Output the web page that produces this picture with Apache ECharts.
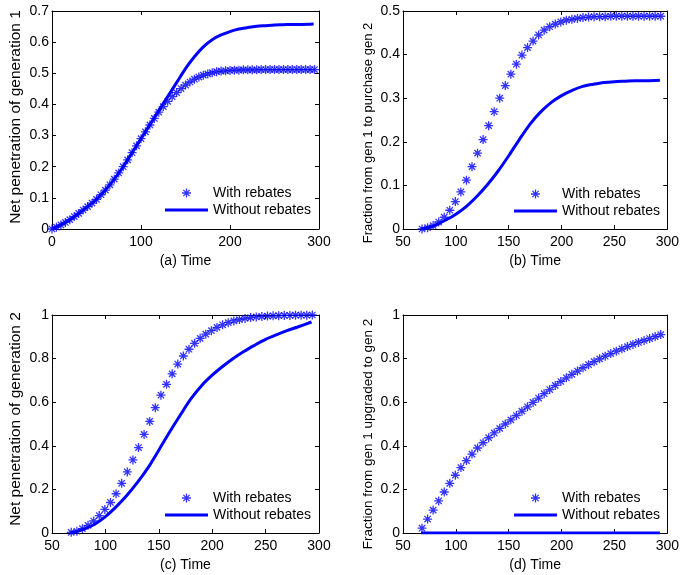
<!DOCTYPE html>
<html>
<head>
<meta charset="utf-8">
<script src="https://cdn.jsdelivr.net/npm/echarts@6/dist/echarts.min.js"></script>
<style>
  html, body { margin: 0; padding: 0; background: #fff; }
  #chart { width: 682px; height: 575px; }
</style>
</head>
<body>
<div id="chart"></div>
<script>
// time samples of the star markers
var timeA = [0, 5, 10, 15, 20, 25, 30, 35, 40, 45, 50, 55, 60, 65, 70, 75, 80, 85, 90, 95,
  100, 105, 110, 115, 120, 125, 130, 135, 140, 145, 150, 155, 160, 165, 170, 175, 180, 185, 190, 195,
  200, 205, 210, 215, 220, 225, 230, 235, 240, 245, 250, 255, 260, 265, 270, 275, 280, 285, 290, 295];
var timeBCD = [68, 73.25, 78.5, 83.75, 89, 94.25, 99.5, 104.75, 110, 115.25, 120.5, 125.75, 131, 136.25,
  141.5, 146.75, 152, 157.25, 162.5, 167.75, 173, 178.25, 183.5, 188.75, 194, 199.25, 204.5, 209.75,
  215, 220.25, 225.5, 230.75, 236, 241.25, 246.5, 251.75, 257, 262.25, 267.5, 272.75, 278, 283.25,
  288.5, 293.75];

// time samples of the solid curves
var lineTimeA = [0, 10, 20, 30, 40, 50, 60, 70, 80, 90, 100, 110, 120, 130, 140, 150, 160, 170, 180,
  190, 200, 210, 220, 230, 240, 250, 260, 270, 280, 294];
var lineTimeBCD = [67, 75, 80, 90, 100, 110, 120, 130, 140, 150, 160, 170, 180, 190, 200, 210, 220,
  230, 240, 250, 260, 270, 280, 293];
var lineTimeD = [67, 293];

// (a) net penetration of generation 1
var withA = [0, 0.006, 0.013, 0.021, 0.03, 0.04, 0.05, 0.061, 0.072, 0.083,
  0.095, 0.11, 0.125, 0.142, 0.16, 0.18, 0.2, 0.222, 0.245, 0.267,
  0.29, 0.312, 0.334, 0.355, 0.375, 0.393, 0.41, 0.425, 0.438, 0.451,
  0.462, 0.472, 0.481, 0.488, 0.494, 0.498, 0.502, 0.505, 0.507, 0.508,
  0.509, 0.51, 0.51, 0.511, 0.511, 0.511, 0.511, 0.512, 0.512, 0.512,
  0.512, 0.512, 0.512, 0.512, 0.512, 0.512, 0.512, 0.512, 0.512, 0.512];
var withoutA = [0, 0.013, 0.03, 0.05, 0.072, 0.095, 0.125, 0.16, 0.2, 0.245, 0.29, 0.335, 0.38,
  0.425, 0.47, 0.515, 0.553, 0.585, 0.608, 0.623, 0.634, 0.642, 0.647, 0.651, 0.653, 0.655,
  0.656, 0.657, 0.657, 0.658];

// (b) fraction from gen 1 to purchase gen 2
var withB = [0, 0.003, 0.008, 0.016, 0.027, 0.043, 0.063, 0.085, 0.112, 0.143,
  0.174, 0.205, 0.237, 0.269, 0.3, 0.329, 0.355, 0.378, 0.399, 0.416,
  0.431, 0.445, 0.456, 0.464, 0.47, 0.475, 0.479, 0.481, 0.483, 0.485,
  0.486, 0.487, 0.487, 0.487, 0.488, 0.488, 0.488, 0.488, 0.488, 0.488,
  0.488, 0.488, 0.488, 0.488];
var withoutB = [0, 0.004, 0.008, 0.02, 0.034, 0.052, 0.075, 0.102, 0.133, 0.168, 0.205, 0.24,
  0.268, 0.29, 0.306, 0.318, 0.327, 0.332, 0.336, 0.338, 0.339, 0.34, 0.34, 0.341];

// (c) net penetration of generation 2
var withC = [0.003, 0.008, 0.02, 0.035, 0.055, 0.08, 0.108, 0.14, 0.18, 0.228,
  0.28, 0.335, 0.392, 0.452, 0.512, 0.575, 0.632, 0.682, 0.73, 0.775,
  0.812, 0.843, 0.87, 0.893, 0.912, 0.928, 0.943, 0.955, 0.965, 0.973,
  0.979, 0.984, 0.988, 0.991, 0.993, 0.995, 0.996, 0.997, 0.998, 0.998,
  0.999, 0.999, 0.999, 1.0];
var withoutC = [0, 0.01, 0.018, 0.04, 0.075, 0.12, 0.172, 0.232, 0.3, 0.38, 0.462, 0.54, 0.615,
  0.676, 0.724, 0.765, 0.802, 0.834, 0.862, 0.888, 0.909, 0.928, 0.945, 0.968];

// (d) fraction from gen 1 upgraded to gen 2
var withD = [0.022, 0.064, 0.105, 0.147, 0.188, 0.228, 0.265, 0.3, 0.332, 0.362,
  0.39, 0.414, 0.437, 0.459, 0.48, 0.5, 0.519, 0.539, 0.559, 0.579,
  0.599, 0.619, 0.639, 0.658, 0.677, 0.695, 0.712, 0.728, 0.743, 0.758,
  0.772, 0.786, 0.799, 0.811, 0.823, 0.834, 0.845, 0.855, 0.865, 0.874,
  0.883, 0.892, 0.901, 0.91];
var withoutD = [0, 0];

var FONT = '"Liberation Sans", Arial, Helvetica, sans-serif';
var BLUE = '#0000ff';
var STAR = 'path://M0,5H10M5,0V10M1.5,1.5L8.5,8.5M8.5,1.5L1.5,8.5';
var BAR = 'path://M0,0H43V3H0Z';

var panels = [
  { left: 52, top: 11, xMin: 0, xInt: 100, yMax: 0.7, yInt: 0.1, ySize: 15.5, yPad: [0, 0, 0, 6],
    xName: '(a) Time', yName: 'Net penetration of generation 1',
    starT: timeA, starV: withA, lineT: lineTimeA, lineV: withoutA, legLeft: 165, legTop: 186 },
  { left: 403, top: 11, xMin: 50, xInt: 50, yMax: 0.5, yInt: 0.1, ySize: 13, yPad: [0, 26, 0, 0],
    xName: '(b) Time', yName: 'Fraction from gen 1 to purchase gen 2',
    starT: timeBCD, starV: withB, lineT: lineTimeBCD, lineV: withoutB, legLeft: 514, legTop: 187 },
  { left: 52, top: 315, xMin: 50, xInt: 50, yMax: 1, yInt: 0.2, ySize: 15.5, yPad: [0, 0, 0, 10],
    xName: '(c) Time', yName: 'Net penetration of generation 2',
    starT: timeBCD, starV: withC, lineT: lineTimeBCD, lineV: withoutC, legLeft: 165, legTop: 491 },
  { left: 403, top: 315, xMin: 50, xInt: 50, yMax: 1, yInt: 0.2, ySize: 13.5, yPad: [0, 20, 0, 0],
    xName: '(d) Time', yName: 'Fraction from gen 1 upgraded to gen 2',
    starT: timeBCD, starV: withD, lineT: lineTimeD, lineV: withoutD, legLeft: 514, legTop: 491 }
];

var grid = [], xAxis = [], yAxis = [], series = [], legend = [];

function axisBase(min, max, interval) {
  return {
    type: 'value', min: min, max: max, interval: interval,
    axisLine: { show: true, onZero: false, lineStyle: { color: '#000', width: 1 } },
    axisTick: { show: true, inside: true, length: 4, lineStyle: { color: '#000' } },
    splitLine: { show: false }
  };
}

panels.forEach(function (p, i) {
  grid.push({ left: p.left, top: p.top, width: 267, height: 218 });

  var xb = axisBase(p.xMin, 300, p.xInt);
  xb.gridIndex = i; xb.position = 'bottom';
  xb.axisLabel = { color: '#000', fontSize: 14, fontFamily: FONT, margin: 6 };
  xb.name = p.xName; xb.nameLocation = 'middle'; xb.nameGap = 25;
  xb.nameTextStyle = { color: '#000', fontSize: 14, fontFamily: FONT };
  var xt = axisBase(p.xMin, 300, p.xInt);
  xt.gridIndex = i; xt.position = 'top'; xt.axisLabel = { show: false };
  xAxis.push(xb, xt);

  var yl = axisBase(0, p.yMax, p.yInt);
  yl.gridIndex = i; yl.position = 'left';
  yl.axisLabel = { color: '#000', fontSize: 14, fontFamily: FONT, margin: 3 };
  yl.name = p.yName; yl.nameLocation = 'middle'; yl.nameGap = 28;
  yl.nameTextStyle = { color: '#000', fontSize: p.ySize, fontFamily: FONT, padding: p.yPad };
  var yr = axisBase(0, p.yMax, p.yInt);
  yr.gridIndex = i; yr.position = 'right'; yr.axisLabel = { show: false };
  yAxis.push(yl, yr);

  series.push({
    name: 'With rebates', type: 'scatter',
    xAxisIndex: 2 * i, yAxisIndex: 2 * i,
    symbol: STAR, symbolSize: 9,
    itemStyle: { color: BLUE, borderColor: BLUE, borderWidth: 1.3 },
    data: p.starT.map(function (t, k) { return [t, p.starV[k]]; })
  });
  series.push({
    name: 'Without rebates', type: 'line',
    xAxisIndex: 2 * i, yAxisIndex: 2 * i,
    smooth: 0.3, symbol: 'none',
    lineStyle: { color: BLUE, width: 3 },
    itemStyle: { color: BLUE },
    data: p.lineT.map(function (t, k) { return [t, p.lineV[k]]; })
  });

  legend.push({
    left: p.legLeft, top: p.legTop, orient: 'vertical', padding: 0,
    itemWidth: 43, itemHeight: 9, itemGap: 3, selectedMode: false,
    textStyle: { color: '#000', fontSize: 14, fontFamily: FONT, lineHeight: 14 },
    data: [
      { name: 'With rebates', icon: STAR, itemStyle: { color: BLUE, borderColor: BLUE, borderWidth: 1.3 } },
      { name: 'Without rebates', icon: BAR, itemStyle: { color: BLUE, borderWidth: 0 } }
    ]
  });
});

var chart = echarts.init(document.getElementById('chart'));
chart.setOption({
  animation: false,
  backgroundColor: '#fff',
  grid: grid,
  xAxis: xAxis,
  yAxis: yAxis,
  legend: legend,
  series: series
});
</script>
</body>
</html>
